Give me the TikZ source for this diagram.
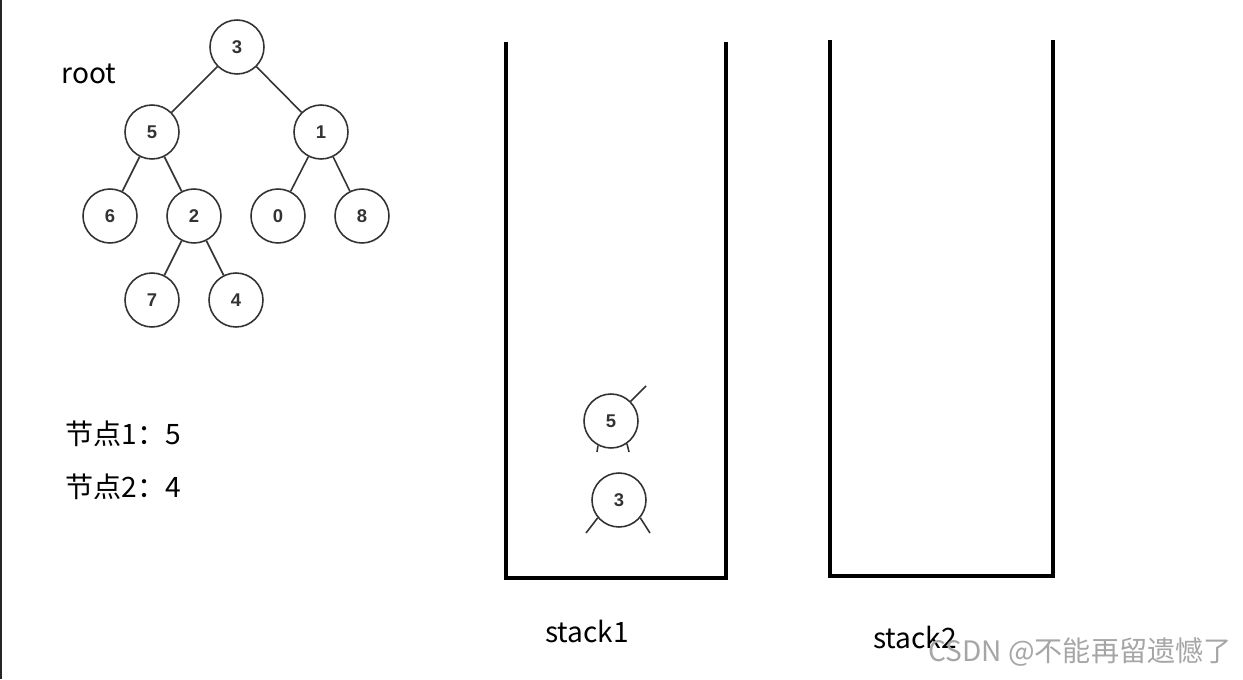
\documentclass[tikz,border=0pt]{standalone}
\usepackage{fontspec}
\setmainfont{Noto Sans CJK SC}
\newfontfamily\digitfont{Liberation Sans}
\usetikzlibrary{positioning}
\tikzstyle{tnode} = [circle, draw=black!80, line width=0.9pt, inner sep=0pt, minimum size=1.08cm, font=\digitfont\bfseries\fontsize{10.5}{12}\selectfont, text=black!80]
\tikzstyle{edge} = [line width=0.9pt, draw=black!80]
\tikzstyle{wall} = [line width=2.8pt, line join=miter]
\tikzstyle{txt} = [inner sep=0pt, font=\fontsize{16}{19}\selectfont]

\begin{document}
\begin{tikzpicture}[x=0.02cm, y=-0.02cm]
\useasboundingbox (0,0) rectangle (1243,679);
\fill[black!85] (0,0) rectangle (2,679);

% tree
\node[txt] (root) at (89,74) {root};
\node[tnode] (n3) at (237,47) {3};
\node[tnode] (n5) at (152,132) {5};
\node[tnode] (n1) at (321,132) {1};
\node[tnode] (n6) at (110,216) {6};
\node[tnode] (n2) at (194,216) {2};
\node[tnode] (n0) at (278,216) {0};
\node[tnode] (n8) at (362,216) {8};
\node[tnode] (n7) at (152,300) {7};
\node[tnode] (n4) at (236,300) {4};
\draw[edge] (n3) -- (n5);
\draw[edge] (n3) -- (n1);
\draw[edge] (n5) -- (n6);
\draw[edge] (n5) -- (n2);
\draw[edge] (n1) -- (n0);
\draw[edge] (n1) -- (n8);
\draw[edge] (n2) -- (n7);
\draw[edge] (n2) -- (n4);

% result
\node[txt, anchor=west] (res1) at (65,434) {节点1：5};
\node[txt, anchor=west] (res2) at (65,487) {节点2：4};

% stacks
\draw[wall] (506,42) -- (506,578) -- (726,578) -- (726,42);
\draw[wall] (830,40) -- (830,576) -- (1053,576) -- (1053,40);
\node[txt] (lab1) at (587,631) {stack1};
\node[txt] (lab2) at (915,637) {stack2};

% nodes in stack1
\node[tnode] (top5) at (611,421) {5};
\node[tnode] (bot3) at (619,500) {3};
\coordinate (top5up) at (646,386);
\coordinate (top5l) at (597,452);
\coordinate (top5r) at (629,452);
\coordinate (bot3l) at (586,533);
\coordinate (bot3r) at (650,533);
\draw[edge] (top5.45) -- (top5up);
\draw[edge] (top5.-118) -- (top5l);
\draw[edge] (top5.-55) -- (top5r);
\draw[edge] (bot3.-140) -- (bot3l);
\draw[edge] (bot3.-40) -- (bot3r);

% watermark
\node[txt, anchor=east, text=black!35] (mark) at (1232,652) {CSDN @不能再留遗憾了};
\end{tikzpicture}
\end{document}
